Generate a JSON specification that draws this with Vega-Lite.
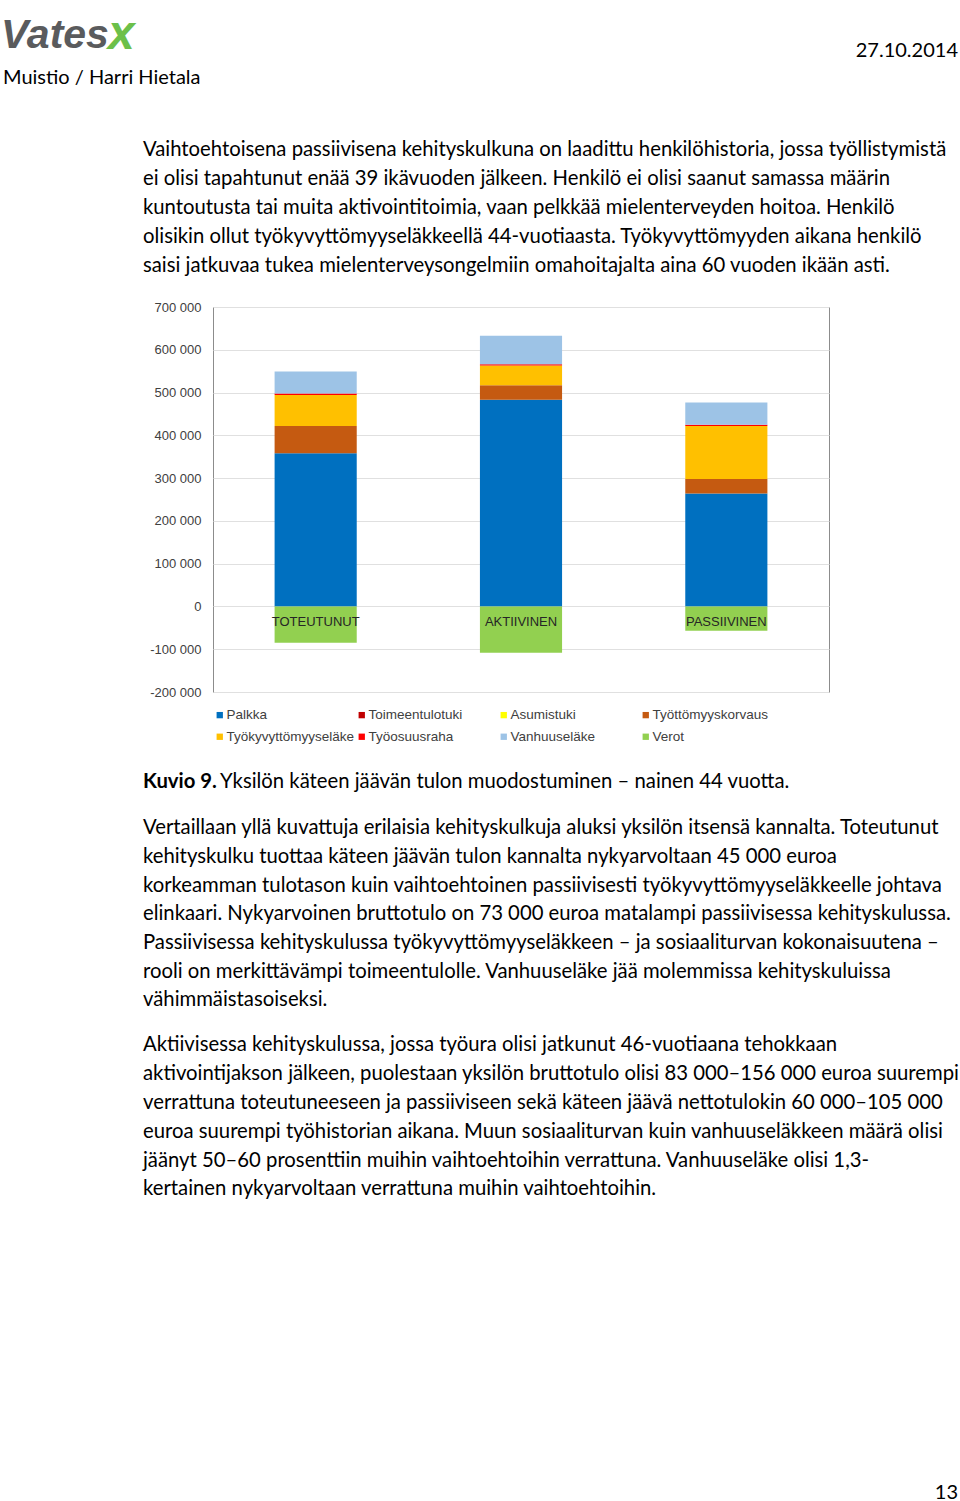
{
  "$schema": "https://vega.github.io/schema/vega-lite/v6.json",
  "padding": 0,
  "background": "white",
  "spacing": 0,
  "bounds": "flush",
  "columns": 3,
  "resolve": {"scale": {"color": "independent"}, "legend": {"color": "independent"}},
  "config": {"view": {"stroke": null}, "font": "Lato"},
  "datasets": {
    "header": [
      {"part": "logo", "text": "Vates"},
      {"part": "mark", "text": "x"},
      {"part": "author", "text": "Muistio / Harri Hietala"},
      {"part": "date", "text": "27.10.2014"}
    ],
    "para1": [
      {"line": 1, "text": "Vaihtoehtoisena passiivisena kehityskulkuna on laadittu henkilöhistoria, jossa työllistymistä"},
      {"line": 2, "text": "ei olisi tapahtunut enää 39 ikävuoden jälkeen. Henkilö ei olisi saanut samassa määrin"},
      {"line": 3, "text": "kuntoutusta tai muita aktivointitoimia, vaan pelkkää mielenterveyden hoitoa. Henkilö"},
      {"line": 4, "text": "olisikin ollut työkyvyttömyyseläkkeellä 44-vuotiaasta. Työkyvyttömyyden aikana henkilö"},
      {"line": 5, "text": "saisi jatkuvaa tukea mielenterveysongelmiin omahoitajalta aina 60 vuoden ikään asti."}
    ],
    "caption": [
      {"label": "Kuvio 9.", "text": "Yksilön käteen jäävän tulon muodostuminen – nainen 44 vuotta."}
    ],
    "para2": [
      {"line": 1, "text": "Vertaillaan yllä kuvattuja erilaisia kehityskulkuja aluksi yksilön itsensä kannalta. Toteutunut"},
      {"line": 2, "text": "kehityskulku tuottaa käteen jäävän tulon kannalta nykyarvoltaan 45 000 euroa"},
      {"line": 3, "text": "korkeamman tulotason kuin vaihtoehtoinen passiivisesti työkyvyttömyyseläkkeelle johtava"},
      {"line": 4, "text": "elinkaari. Nykyarvoinen bruttotulo on 73 000 euroa matalampi passiivisessa kehityskulussa."},
      {"line": 5, "text": "Passiivisessa kehityskulussa työkyvyttömyyseläkkeen – ja sosiaaliturvan kokonaisuutena –"},
      {"line": 6, "text": "rooli on merkittävämpi toimeentulolle. Vanhuuseläke jää molemmissa kehityskuluissa"},
      {"line": 7, "text": "vähimmäistasoiseksi."}
    ],
    "para3": [
      {"line": 1, "text": "Aktiivisessa kehityskulussa, jossa työura olisi jatkunut 46-vuotiaana tehokkaan"},
      {"line": 2, "text": "aktivointijakson jälkeen, puolestaan yksilön bruttotulo olisi 83 000–156 000 euroa suurempi"},
      {"line": 3, "text": "verrattuna toteutuneeseen ja passiiviseen sekä käteen jäävä nettotulokin 60 000–105 000"},
      {"line": 4, "text": "euroa suurempi työhistorian aikana. Muun sosiaaliturvan kuin vanhuuseläkkeen määrä olisi"},
      {"line": 5, "text": "jäänyt 50–60 prosenttiin muihin vaihtoehtoihin verrattuna. Vanhuuseläke olisi 1,3-"},
      {"line": 6, "text": "kertainen nykyarvoltaan verrattuna muihin vaihtoehtoihin."}
    ],
    "footer": [{"text": "13"}],
    "series": [
      {"category": "Palkka", "series": 1},
      {"category": "Toimeentulotuki", "series": 2},
      {"category": "Asumistuki", "series": 3},
      {"category": "Työttömyyskorvaus", "series": 4},
      {"category": "Työkyvyttömyyseläke", "series": 5},
      {"category": "Työosuusraha", "series": 6},
      {"category": "Vanhuuseläke", "series": 7},
      {"category": "Verot", "series": 8}
    ],
    "income": [
      {"scenario": "TOTEUTUNUT", "category": "Palkka", "value": 358000},
      {"scenario": "TOTEUTUNUT", "category": "Toimeentulotuki", "value": 0},
      {"scenario": "TOTEUTUNUT", "category": "Asumistuki", "value": 0},
      {"scenario": "TOTEUTUNUT", "category": "Työttömyyskorvaus", "value": 64000},
      {"scenario": "TOTEUTUNUT", "category": "Työkyvyttömyyseläke", "value": 72000},
      {"scenario": "TOTEUTUNUT", "category": "Työosuusraha", "value": 4000},
      {"scenario": "TOTEUTUNUT", "category": "Vanhuuseläke", "value": 51000},
      {"scenario": "TOTEUTUNUT", "category": "Verot", "value": -85000},
      {"scenario": "AKTIIVINEN", "category": "Palkka", "value": 483000},
      {"scenario": "AKTIIVINEN", "category": "Toimeentulotuki", "value": 0},
      {"scenario": "AKTIIVINEN", "category": "Asumistuki", "value": 0},
      {"scenario": "AKTIIVINEN", "category": "Työttömyyskorvaus", "value": 34000},
      {"scenario": "AKTIIVINEN", "category": "Työkyvyttömyyseläke", "value": 46000},
      {"scenario": "AKTIIVINEN", "category": "Työosuusraha", "value": 3000},
      {"scenario": "AKTIIVINEN", "category": "Vanhuuseläke", "value": 67000},
      {"scenario": "AKTIIVINEN", "category": "Verot", "value": -108000},
      {"scenario": "PASSIIVINEN", "category": "Palkka", "value": 264000},
      {"scenario": "PASSIIVINEN", "category": "Toimeentulotuki", "value": 0},
      {"scenario": "PASSIIVINEN", "category": "Asumistuki", "value": 0},
      {"scenario": "PASSIIVINEN", "category": "Työttömyyskorvaus", "value": 34000},
      {"scenario": "PASSIIVINEN", "category": "Työkyvyttömyyseläke", "value": 124000},
      {"scenario": "PASSIIVINEN", "category": "Työosuusraha", "value": 3000},
      {"scenario": "PASSIIVINEN", "category": "Vanhuuseläke", "value": 52000},
      {"scenario": "PASSIIVINEN", "category": "Verot", "value": -57000}
    ]
  },
  "concat": [
    {
      "width": 143,
      "height": 135,
      "data": {"name": "header"},
      "layer": [
        {
          "transform": [{"filter": "datum.part === 'logo'"}],
          "mark": {"type": "text", "align": "left", "baseline": "middle", "font": "Liberation Sans", "fontWeight": "bold", "fontStyle": "italic", "fontSize": 41, "color": "#5A5B5D", "dx": 1},
          "encoding": {
            "x": {"datum": 0, "type": "quantitative", "scale": {"domain": [0, 1]}, "axis": null},
            "y": {"datum": 1.2, "type": "quantitative", "scale": {"domain": [0, 4.5], "reverse": true, "nice": false}, "axis": null},
            "text": {"field": "text"}
          }
        },
        {
          "transform": [{"filter": "datum.part === 'mark'"}],
          "mark": {"type": "text", "align": "left", "baseline": "middle", "font": "Liberation Sans", "fontWeight": "bold", "fontStyle": "italic", "fontSize": 48, "color": "#6CC04A", "dx": 108},
          "encoding": {
            "x": {"datum": 0, "type": "quantitative"},
            "y": {"datum": 1.15, "type": "quantitative"},
            "text": {"field": "text"}
          }
        },
        {
          "transform": [{"filter": "datum.part === 'author'"}],
          "mark": {"type": "text", "align": "left", "baseline": "middle", "font": "Lato", "fontSize": 20, "color": "#000000", "dx": 3},
          "encoding": {
            "x": {"datum": 0, "type": "quantitative"},
            "y": {"datum": 2.6, "type": "quantitative"},
            "text": {"field": "text"}
          }
        }
      ]
    },
    {"width": 70, "height": 1, "data": {"values": []}, "mark": {"type": "point", "opacity": 0}},
    {
      "width": 747,
      "height": 135,
      "data": {"name": "header"},
      "transform": [{"filter": "datum.part === 'date'"}],
      "mark": {"type": "text", "align": "right", "baseline": "middle", "font": "Lato", "fontSize": 20, "color": "#000000", "dx": -2},
      "encoding": {
        "x": {"datum": 1, "type": "quantitative", "scale": {"domain": [0, 1]}, "axis": null},
        "y": {"datum": 1.7, "type": "quantitative", "scale": {"domain": [0, 4.5], "reverse": true, "nice": false}, "axis": null},
        "text": {"field": "text"}
      }
    },

    {"width": 1, "height": 1, "data": {"values": []}, "mark": {"type": "point", "opacity": 0}},
    {
      "width": 70,
      "height": 172,
      "data": {"name": "para1"},
      "mark": {"type": "text", "align": "left", "baseline": "middle", "font": "Lato", "fontSize": 20.3, "color": "#000000"},
      "encoding": {
        "x": {"datum": 0, "type": "quantitative", "scale": {"domain": [0, 1]}, "axis": null},
        "y": {"field": "line", "type": "quantitative", "scale": {"domain": [0.5, 6.431], "reverse": true, "nice": false, "zero": false}, "axis": null},
        "text": {"field": "text"}
      }
    },
    {"width": 1, "height": 1, "data": {"values": []}, "mark": {"type": "point", "opacity": 0}},

    {"width": 1, "height": 1, "data": {"values": []}, "mark": {"type": "point", "opacity": 0}},
    {"width": 1, "height": 1, "data": {"values": []}, "mark": {"type": "point", "opacity": 0}},
    {
      "width": 616,
      "height": 385,
      "view": {"stroke": "#8C8C8C", "strokeWidth": 1},
      "data": {"name": "income"},
      "transform": [
        {"lookup": "category", "from": {"data": {"name": "series"}, "key": "category", "fields": ["series"]}}
      ],
      "mark": {"type": "bar"},
      "encoding": {
        "x": {
          "field": "scenario", "type": "nominal",
          "sort": ["TOTEUTUNUT", "AKTIIVINEN", "PASSIIVINEN"],
          "scale": {"paddingInner": 0.6, "paddingOuter": 0.3},
          "axis": {"orient": "bottom", "offset": -85, "title": null, "domain": false, "ticks": false, "labelAngle": 0, "labelPadding": 8, "labelFont": "Liberation Sans", "labelFontSize": 13, "labelColor": "#262626", "zindex": 1}
        },
        "y": {
          "field": "value", "type": "quantitative", "stack": "zero",
          "scale": {"domain": [-200000, 700000], "nice": false},
          "axis": {"title": null, "values": [-200000, -100000, 0, 100000, 200000, 300000, 400000, 500000, 600000, 700000], "labelExpr": "replace(replace(format(datum.value, ',d'), ',', ' '), '−', '-')", "domain": false, "ticks": false, "labelPadding": 12, "gridColor": "#E0E0E0", "labelFont": "Liberation Sans", "labelFontSize": 13, "labelColor": "#404040"}
        },
        "order": {"field": "series", "type": "quantitative", "sort": "ascending"},
        "color": {
          "field": "category", "type": "nominal",
          "scale": {
            "domain": ["Palkka", "Toimeentulotuki", "Asumistuki", "Työttömyyskorvaus", "Työkyvyttömyyseläke", "Työosuusraha", "Vanhuuseläke", "Verot"],
            "range": ["#0070C0", "#C00000", "#FFFF00", "#C55A11", "#FFC000", "#FF0000", "#9DC3E6", "#92D050"]
          },
          "legend": {"orient": "bottom", "direction": "horizontal", "columns": 4, "title": null, "symbolType": "square", "symbolSize": 40, "symbolStrokeWidth": 0, "labelFont": "Liberation Sans", "labelFontSize": 13.5, "labelColor": "#404040", "gridAlign": "all", "columnPadding": -2, "rowPadding": 7, "offset": 16, "labelOffset": 0, "padding": 0}
        }
      }
    },

    {"width": 1, "height": 75.5, "data": {"values": []}, "mark": {"type": "point", "opacity": 0}},
    {"width": 1, "height": 1, "data": {"values": []}, "mark": {"type": "point", "opacity": 0}},
    {"width": 1, "height": 1, "data": {"values": []}, "mark": {"type": "point", "opacity": 0}},

    {"width": 1, "height": 1, "data": {"values": []}, "mark": {"type": "point", "opacity": 0}},
    {
      "width": 70,
      "height": 45.2,
      "data": {"name": "caption"},
      "layer": [
        {
          "mark": {"type": "text", "align": "left", "baseline": "middle", "font": "Lato", "fontSize": 20.3, "fontWeight": "bold", "color": "#000000"},
          "encoding": {
            "x": {"datum": 0, "type": "quantitative", "scale": {"domain": [0, 1]}, "axis": null},
            "y": {"datum": 0.5, "type": "quantitative", "scale": {"domain": [0, 1.559], "reverse": true, "nice": false, "zero": false}, "axis": null},
            "text": {"field": "label"}
          }
        },
        {
          "mark": {"type": "text", "align": "left", "baseline": "middle", "font": "Lato", "fontSize": 20.3, "color": "#000000", "dx": 77},
          "encoding": {
            "x": {"datum": 0, "type": "quantitative"},
            "y": {"datum": 0.5, "type": "quantitative"},
            "text": {"field": "text"}
          }
        }
      ]
    },
    {"width": 1, "height": 1, "data": {"values": []}, "mark": {"type": "point", "opacity": 0}},

    {"width": 1, "height": 1, "data": {"values": []}, "mark": {"type": "point", "opacity": 0}},
    {
      "width": 70,
      "height": 216.9,
      "data": {"name": "para2"},
      "mark": {"type": "text", "align": "left", "baseline": "middle", "font": "Lato", "fontSize": 20.3, "color": "#000000"},
      "encoding": {
        "x": {"datum": 0, "type": "quantitative", "scale": {"domain": [0, 1]}, "axis": null},
        "y": {"field": "line", "type": "quantitative", "scale": {"domain": [0.5, 8.066], "reverse": true, "nice": false, "zero": false}, "axis": null},
        "text": {"field": "text"}
      }
    },
    {"width": 1, "height": 1, "data": {"values": []}, "mark": {"type": "point", "opacity": 0}},

    {"width": 1, "height": 1, "data": {"values": []}, "mark": {"type": "point", "opacity": 0}},
    {
      "width": 70,
      "height": 451.4,
      "data": {"name": "para3"},
      "mark": {"type": "text", "align": "left", "baseline": "middle", "font": "Lato", "fontSize": 20.3, "color": "#000000"},
      "encoding": {
        "x": {"datum": 0, "type": "quantitative", "scale": {"domain": [0, 1]}, "axis": null},
        "y": {"field": "line", "type": "quantitative", "scale": {"domain": [0.5, 16.174], "reverse": true, "nice": false, "zero": false}, "axis": null},
        "text": {"field": "text"}
      }
    },
    {"width": 1, "height": 1, "data": {"values": []}, "mark": {"type": "point", "opacity": 0}},

    {"width": 1, "height": 1, "data": {"values": []}, "mark": {"type": "point", "opacity": 0}},
    {"width": 1, "height": 1, "data": {"values": []}, "mark": {"type": "point", "opacity": 0}},
    {
      "width": 747,
      "height": 20,
      "data": {"name": "footer"},
      "mark": {"type": "text", "align": "right", "baseline": "middle", "font": "Lato", "fontSize": 20, "color": "#000000", "dx": -2},
      "encoding": {
        "x": {"datum": 1, "type": "quantitative", "scale": {"domain": [0, 1]}, "axis": null},
        "y": {"datum": 0.5, "type": "quantitative", "scale": {"domain": [0, 1]}, "axis": null},
        "text": {"field": "text"}
      }
    }
  ]
}
